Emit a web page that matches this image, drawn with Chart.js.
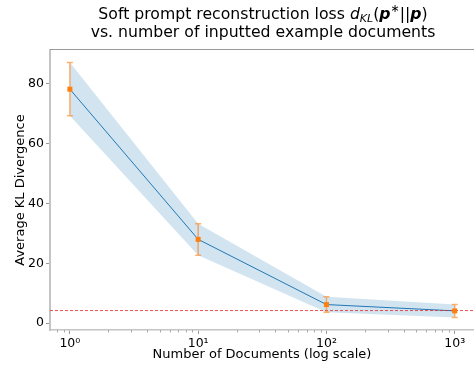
<!DOCTYPE html>
<html>
<head>
<meta charset="utf-8">
<script src="https://cdn.jsdelivr.net/npm/chart.js@4.4.0/dist/chart.umd.min.js"></script>
<style>
  html, body { margin: 0; padding: 0; background: #fff; overflow: hidden; }
</style>
</head>
<body>
<canvas id="klChart" width="474" height="365"></canvas>
<script>
// Soft prompt reconstruction loss vs number of documents

const docCounts = [1, 10, 100, 1000];
const meanKL = [78.2, 28.0, 6.2, 4.1];
const upperKL = [87.1, 33.2, 8.8, 6.2];
const lowerKL = [69.3, 22.7, 3.6, 1.9];
const baselineKL = 4.2;
const xTicks = [1, 10, 100, 1000];
const yTicks = [0, 20, 40, 60, 80];

const toPoints = (ys) => docCounts.map((x, i) => ({ x: x, y: ys[i] }));
const supDigits = ['⁰', '¹', '²', '³', '⁴'];

const BLUE = '#1f77b4';
const ORANGE = '#ff7f0e';
const SPINE = '#c4c4c4';

// title with math bits (d_KL(p*||p))
const titlePlugin = {
    id: 'mathTitle',
    afterDraw(chart) {
        const ctx = chart.ctx;
        const area = chart.chartArea;
        const cx = (area.left + area.right) / 2 + 1;
        const fam = '"DejaVu Sans"';
        const sz = 15.7;
        const runs = [
            { t: 'Soft prompt reconstruction loss ', f: `${sz}px ${fam}`, dy: 0 },
            { t: 'd', f: `italic ${sz}px ${fam}`, dy: 0 },
            { t: 'KL', f: `italic ${(sz * 0.7).toFixed(1)}px ${fam}`, dy: 3 },
            { t: '(', f: `${sz}px ${fam}`, dy: 0 },
            { t: 'p', f: `italic bold ${sz}px ${fam}`, dy: 0 },
            { t: '∗', f: `${(sz * 0.7).toFixed(1)}px ${fam}`, dy: -7 },
            { t: '||', f: `${sz}px ${fam}`, dy: 0 },
            { t: 'p', f: `italic bold ${sz}px ${fam}`, dy: 0 },
            { t: ')', f: `${sz}px ${fam}`, dy: 0 }
        ];
        ctx.save();
        ctx.fillStyle = '#000';
        ctx.textBaseline = 'alphabetic';
        ctx.textAlign = 'left';
        let total = 0;
        runs.forEach(r => { ctx.font = r.f; r.w = ctx.measureText(r.t).width; total += r.w; });
        let x = cx - total / 2;
        runs.forEach(r => {
            ctx.font = r.f;
            ctx.fillText(r.t, x, 19 + r.dy);
            x += r.w;
        });
        ctx.font = `${sz}px ${fam}`;
        ctx.textAlign = 'center';
        ctx.fillText('vs. number of inputted example documents', cx, 37);
        ctx.restore();
    }
};

// reference line, error bars, markers, top spine, minor ticks
const extrasPlugin = {
    id: 'extras',
    afterDatasetsDraw(chart) {
        const ctx = chart.ctx;
        const area = chart.chartArea;
        const xs = chart.scales.x;
        const ys = chart.scales.y;
        ctx.save();

        // dashed baseline
        const yb = ys.getPixelForValue(baselineKL);
        ctx.strokeStyle = 'rgba(230, 40, 40, 0.8)';
        ctx.lineWidth = 1;
        ctx.setLineDash([3, 2]);
        ctx.beginPath();
        ctx.moveTo(area.left, yb);
        ctx.lineTo(area.right, yb);
        ctx.stroke();
        ctx.setLineDash([]);

        // error bars
        ctx.strokeStyle = 'rgba(255, 127, 14, 0.6)';
        ctx.lineWidth = 1.5;
        ctx.fillStyle = ORANGE;
        docCounts.forEach((d, i) => {
            const px = xs.getPixelForValue(d);
            const top = ys.getPixelForValue(upperKL[i]);
            const bot = ys.getPixelForValue(lowerKL[i]);
            ctx.beginPath();
            ctx.moveTo(px, top); ctx.lineTo(px, bot);
            ctx.moveTo(px - 3, top); ctx.lineTo(px + 3, top);
            ctx.moveTo(px - 3, bot); ctx.lineTo(px + 3, bot);
            ctx.stroke();
            const py = ys.getPixelForValue(meanKL[i]);
            ctx.fillRect(px - 2.5, py - 2.5, 5, 5);
        });
        ctx.restore();
    },
    afterDraw(chart) {
        const ctx = chart.ctx;
        const area = chart.chartArea;
        const xs = chart.scales.x;
        ctx.save();
        // top spine
        ctx.strokeStyle = '#999';
        ctx.lineWidth = 1;
        ctx.beginPath();
        ctx.moveTo(area.left, area.top - 0.5);
        ctx.lineTo(area.right, area.top - 0.5);
        ctx.stroke();

        // minor log ticks
        ctx.strokeStyle = '#aaa';
        ctx.beginPath();
        xTicks.forEach(dec => {
            [0.2, 0.3, 0.4, 0.5, 0.6, 0.7, 0.8, 0.9, 2, 3, 4, 5, 6, 7, 8, 9].forEach(k => {
                const v = dec * k;
                if (v <= xs.min || v >= xs.max || (k < 1 && dec > 1)) return;
                const px = Math.round(xs.getPixelForValue(v)) + 0.5;
                ctx.moveTo(px, area.bottom);
                ctx.lineTo(px, area.bottom + 2.5);
            });
        });
        ctx.stroke();
        ctx.restore();
    }
};

Chart.defaults.font.family = '"DejaVu Sans"';
Chart.defaults.color = '#000';

const ctx = document.getElementById('klChart').getContext('2d');
new Chart(ctx, {
    type: 'line',
    data: {
        datasets: [
            {
                label: 'upper',
                data: toPoints(upperKL),
                borderWidth: 1,
                borderColor: 'transparent',
                pointRadius: 0,
                fill: '+1',
                backgroundColor: 'rgba(31, 119, 180, 0.2)',
                tension: 0
            },
            {
                label: 'lower',
                data: toPoints(lowerKL),
                borderWidth: 1,
                borderColor: 'transparent',
                pointRadius: 0,
                fill: false,
                tension: 0
            },
            {
                label: 'mean',
                data: toPoints(meanKL),
                borderColor: BLUE,
                borderWidth: 1,
                pointRadius: 0,
                fill: false,
                tension: 0
            }
        ]
    },
    options: {
        responsive: false,
        animation: false,
        devicePixelRatio: 1,
        layout: { padding: { top: 50, left: 0, right: 0, bottom: 0 } },
        scales: {
            x: {
                type: 'logarithmic',
                min: 0.708,
                max: 1413,
                afterBuildTicks: (scale) => { scale.ticks = xTicks.map(v => ({ value: v })); },
                afterFit: (scale) => {
                    scale.height = 35;
                    scale.paddingRight = 0;
                    scale.paddingLeft = 0;
                },
                ticks: {
                    font: { size: 12.5 },
                    padding: 2,
                    maxRotation: 0,
                    autoSkip: false,
                    callback: (v) => '10' + supDigits[Math.round(Math.log10(v))]
                },
                grid: { drawOnChartArea: false, drawTicks: true, tickLength: 4, tickColor: '#999' },
                border: { display: true, color: SPINE, width: 1.5 },
                title: { display: true, text: 'Number of Documents (log scale)', font: { size: 13 }, padding: { top: 0, bottom: 3 } }
            },
            y: {
                type: 'linear',
                min: -2.3,
                max: 91.3,
                afterBuildTicks: (scale) => { scale.ticks = yTicks.map(v => ({ value: v })); },
                afterFit: (scale) => { scale.width = 50; },
                ticks: { font: { size: 12.5 }, padding: 2 },
                grid: { drawOnChartArea: false, drawTicks: true, tickLength: 4, tickColor: '#999' },
                border: { display: true, color: SPINE, width: 2 },
                title: { display: true, text: 'Average KL Divergence', font: { size: 13 }, padding: { top: 13, bottom: 0 } }
            }
        },
        plugins: {
            legend: { display: false },
            tooltip: { enabled: false }
        }
    },
    plugins: [titlePlugin, extrasPlugin]
});
</script>
</body>
</html>
